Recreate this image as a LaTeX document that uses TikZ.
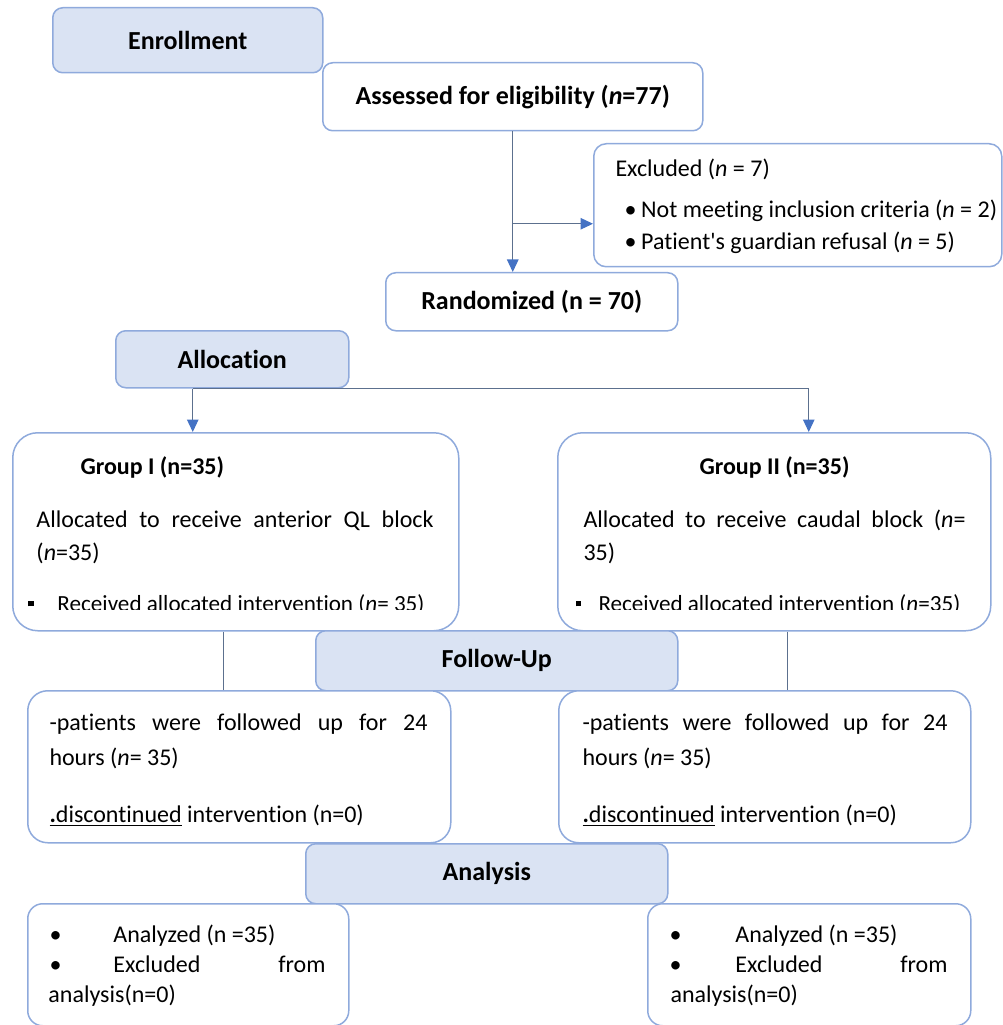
\documentclass[tikz,border=0pt]{standalone}
\usepackage{fontspec}
\setmainfont{Carlito}[Ligatures={NoCommon}]
\usepackage{tikz}
\usetikzlibrary{positioning,arrows.meta}
\definecolor{boxline}{RGB}{143,170,220}
\definecolor{phasefill}{RGB}{218,227,243}
\definecolor{linkgray}{RGB}{92,112,142}
\definecolor{tipblue}{RGB}{68,114,196}
\newdimen\pxu \pxu=0.4pt
\newcommand{\bodyfont}{\fontsize{9.6}{12}\selectfont}
\newcommand{\headfont}{\fontsize{10.4}{12}\selectfont\bfseries}
\newcommand{\sqbul}{\rule[1.9pt]{2.2pt}{2.2pt}}

\begin{document}
\begin{tikzpicture}[x=0.4pt, y=-0.4pt,
        size/.style 2 args={minimum width=#1*0.4pt, minimum height=#2*0.4pt},
        phase/.style={draw=boxline, line width=0.6pt, fill=phasefill, rounded corners=4pt,
                      anchor=north west, inner sep=0pt, font=\headfont},
        card/.style={draw=boxline, line width=0.6pt, fill=white, rounded corners=#1,
                     anchor=north west, inner sep=0pt},
        card/.default=4pt,
        txt/.style={anchor=base west, inner sep=0pt, font=\bodyfont},
        link/.style={draw=linkgray, line width=0.5pt},
        arr/.style={link, -{Triangle[length=5pt, width=4.6pt, color=tipblue]}}
    ]
        \useasboundingbox (0,0) rectangle (1002,1025);

        % boxes
        \node[phase, size={270}{65}] (enroll) at (52,7) {Enrollment};
        \node[card, font=\headfont, size={380}{68}] (assess) at (322,62) {Assessed for eligibility (\textit{n}=77)};
        \node[card=5pt, size={408}{123}] (excl) at (593,143) {};
        \node[card, font=\headfont, size={292}{58}] (rand) at (385,272) {Randomized (n = 70)};
        \node[phase, size={233}{57}] (alloc) at (115,330) {Allocation};
        \node[card=10pt, size={446}{198}] (grpA) at (12,432) {};
        \node[card=10pt, size={433}{198}] (grpB) at (557,432) {};
        \node[phase, size={362}{60}] (follow) at (315,630) {Follow-Up};
        \node[card=8pt, size={423}{152}] (fuA) at (27,690) {};
        \node[card=8pt, size={412}{152}] (fuB) at (558,690) {};
        \node[phase, size={362}{60}] (anal) at (305,843) {Analysis};
        \node[card=6pt, size={321}{122}] (anA) at (27,903) {};
        \node[card=6pt, size={323}{122}] (anB) at (647,903) {};

        % texts
        \node[txt] (exclhead) at (615,177) {Excluded (\textit{n} = 7)};
        \node[txt] (exclone) at (624,218) {\textbullet\hspace{0.2em}Not meeting inclusion criteria (\textit{n} = 2)};
        \node[txt] (excltwo) at (624,250) {\textbullet\hspace{0.2em}Patient\textquotesingle s guardian refusal (\textit{n} = 5)};

        \node[txt, font=\bodyfont\bfseries] (grpAhead) at (80,474) {Group I (n=35)};
        \node[txt] (grpAbody) at (36,527) {\makebox[397\pxu][s]{Allocated to receive anterior QL block}};
        \node[txt] (grpAn) at (36,560) {(\textit{n}=35)};
        \node[txt, font=\bodyfont\bfseries] (grpBhead) at (699,474) {Group II (n=35)};
        \node[txt] (grpBbody) at (583,527) {\makebox[382\pxu][s]{Allocated to receive caudal block (\textit{n}=}};
        \node[txt] (grpBn) at (583,560) {35)};
        \begin{scope}
            \clip (0,585) rectangle (1002,609);
            \node[txt, font=\fontsize{9.25}{12}\selectfont] (grpAgot) at (28,611) {\makebox[29\pxu][l]{\sqbul}Received allocated intervention (\textit{n}= 35)};
            \node[txt, font=\fontsize{9.25}{12}\selectfont] (grpBgot) at (575,611) {\makebox[23\pxu][l]{\sqbul}Received allocated intervention (\textit{n}=35)};
        \end{scope}

        \node[txt] (fuAone) at (49,730) {\makebox[378\pxu][s]{-patients were followed up for 24}};
        \node[txt] (fuAtwo) at (49,765) {hours (\textit{n}= 35)};
        \node[txt] (fuAthree) at (49,822) {\underline{\textbf{.}discontinued} intervention (n=0)};
        \node[txt] (fuBone) at (582,730) {\makebox[365\pxu][s]{-patients were followed up for 24}};
        \node[txt] (fuBtwo) at (582,765) {hours (\textit{n}= 35)};
        \node[txt] (fuBthree) at (582,822) {\underline{\textbf{.}discontinued} intervention (n=0)};

        \node[txt] (anAone) at (49,942) {\makebox[64\pxu][l]{\textbullet}Analyzed (n =35)};
        \node[txt] (anAtwo) at (49,972) {\makebox[64\pxu][l]{\textbullet}\makebox[212\pxu][s]{Excluded from}};
        \node[txt] (anAthree) at (48,1002) {analysis(n=0)};
        \node[txt] (anBone) at (669,942) {\makebox[66\pxu][l]{\textbullet}Analyzed (n =35)};
        \node[txt] (anBtwo) at (669,972) {\makebox[66\pxu][l]{\textbullet}\makebox[212\pxu][s]{Excluded from}};
        \node[txt] (anBthree) at (670,1002) {analysis(n=0)};

        % connectors
        \draw[arr] (assess.south) -- (assess.south |- rand.north);
        \draw[arr] ([yshift=-7.4pt]excl.west -| assess.south) -- ([yshift=-7.4pt]excl.west);
        \coordinate (split) at ([xshift=-15.8pt]alloc.south);
        \draw[arr] (split) -- (split |- grpA.north);
        \draw[arr] (split) -| ([xshift=13.8pt]grpB.north);
        \draw[link] ([xshift=-4.8pt]grpA.south) -- ([xshift=-4.8pt]grpA.south |- fuA.north);
        \draw[link] ([xshift=5.4pt]grpB.south) -- ([xshift=5.4pt]grpB.south |- fuB.north);
    \end{tikzpicture}
\end{document}
